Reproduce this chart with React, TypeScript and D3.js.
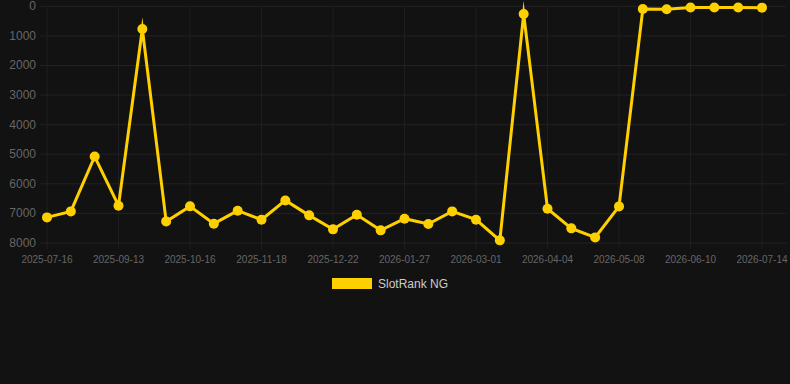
import React from "react";
import * as d3 from "d3";

const dates = [
  "2025-07-16", "", "", "2025-09-13", "", "", "2025-10-16", "", "", "2025-11-18", "", "",
  "2025-12-22", "", "", "2026-01-27", "", "", "2026-03-01", "", "", "2026-04-04", "", "",
  "2026-05-08", "", "", "2026-06-10", "", "", "2026-07-14",
];
const rankValues = [
  7134, 6932, 5076, 6740, 766, 7270, 6762, 7347, 6908, 7212, 6561, 7066, 7539, 7044, 7573,
  7178, 7357, 6932, 7212, 7911, 260, 6841, 7505, 7810, 6763, 91, 101, 40, 40, 40, 45,
];
const yTicks = [0, 1000, 2000, 3000, 4000, 5000, 6000, 7000, 8000];
const seriesName = "SlotRank NG";

const W = 790;
const H = 384;
const COLOR = "#ffd000";

export default function App() {
  const idx = rankValues.map((_, i) => i);
  const x = d3.scalePoint<number>().domain(idx).range([47, 762]);
  const y = d3.scaleLinear().domain([0, 8000]).range([6.3, 243]);
  const line = d3
    .line<number>()
    .x((_, i) => x(i) as number)
    .y((d) => y(d));
  const labelIdx = idx.filter((i) => dates[i] !== "");
  const font = "Helvetica, Arial, 'Liberation Sans', sans-serif";

  return (
    <div style={{ position: "fixed", left: 0, top: 0, width: W, height: H, background: "#121212" }}>
      <svg width={W} height={H} style={{ display: "block" }}>
        <rect x={0} y={0} width={W} height={H} fill="#121212" />
        {yTicks.map((t) => (
          <line key={"h" + t} x1={40} x2={786} y1={y(t)} y2={y(t)} stroke="#222222" strokeWidth={1} />
        ))}
        {labelIdx.map((i) => (
          <line key={"v" + i} x1={x(i)} x2={x(i)} y1={6} y2={249} stroke="#1e1e1e" strokeWidth={1} />
        ))}
        {yTicks.map((t) => (
          <text
            key={"yl" + t}
            x={36}
            y={y(t)}
            textAnchor="end"
            dominantBaseline="central"
            fill="#666666"
            fontSize={12}
            fontFamily={font}
          >
            {t}
          </text>
        ))}
        {labelIdx.map((i) => (
          <text
            key={"xl" + i}
            x={x(i)}
            y={259}
            textAnchor="middle"
            dominantBaseline="central"
            fill="#666666"
            fontSize={10}
            fontFamily={font}
          >
            {dates[i]}
          </text>
        ))}
        <path
          d={line(rankValues) || ""}
          fill="none"
          stroke={COLOR}
          strokeWidth={3}
          strokeLinejoin="miter"
          strokeMiterlimit={10}
        />
        {rankValues.map((v, i) => (
          <circle key={"p" + i} cx={x(i)} cy={y(v)} r={5} fill={COLOR} />
        ))}
        <rect x={332} y={278} width={40} height={11} fill={COLOR} />
        <text x={378} y={284} dominantBaseline="central" fill="#cccccc" fontSize={12} fontFamily={font}>
          {seriesName}
        </text>
      </svg>
    </div>
  );
}
